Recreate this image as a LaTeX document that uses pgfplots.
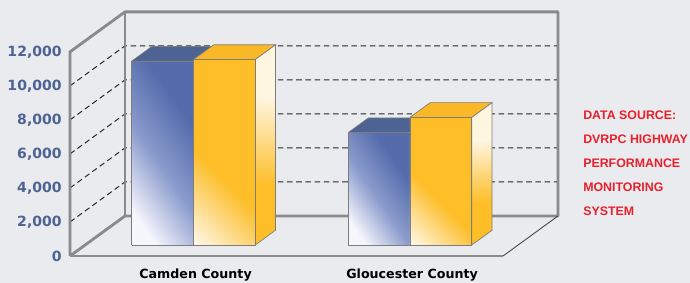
\documentclass[border=0pt]{standalone}
\usepackage{pgfplots}
\pgfplotsset{compat=1.18}
\usepackage{fontspec}
\setmainfont{DejaVu Sans}
\newfontfamily\srcfont{Liberation Sans}
\definecolor{bg}{RGB}{233,235,238}
\definecolor{wall}{RGB}{138,138,138}
\definecolor{tickblue}{RGB}{78,98,148}
\definecolor{bluedark}{RGB}{84,108,172}
\definecolor{bluemid}{RGB}{138,155,204}
\definecolor{bluelight}{RGB}{246,246,253}
\definecolor{bluetop}{RGB}{76,99,148}
\definecolor{yel}{RGB}{253,190,40}
\definecolor{yellight}{RGB}{255,246,226}
\definecolor{yeltop}{RGB}{251,184,38}
\definecolor{srcred}{RGB}{232,32,44}
\definecolor{edge}{RGB}{125,125,125}

\pgfdeclareverticalshading{blueshade}{100bp}{color(0bp)=(bluelight); color(24bp)=(bluelight); color(46bp)=(bluemid); color(68bp)=(bluedark); color(100bp)=(bluedark)}
\pgfdeclareverticalshading{yelshade}{100bp}{color(0bp)=(yellight); color(16bp)=(yellight); color(42bp)=(yel); color(100bp)=(yel)}
\pgfdeclareverticalshading{yelsideshade}{100bp}{color(0bp)=(yel); color(40bp)=(yel); color(62bp)=(yellight); color(100bp)=(yellight)}

% x1, x2, value, front style, top style, side style
\newcommand{\cube}[6]{%
 \addplot3[#5] coordinates {(#1,0.275,#3) (#2,0.275,#3) (#2,0.645,#3) (#1,0.645,#3) (#1,0.275,#3)};
 \addplot3[#6] coordinates {(#2,0.275,0) (#2,0.645,0) (#2,0.645,#3) (#2,0.275,#3) (#2,0.275,0)};
 \addplot3[#4] coordinates {(#1,0.275,0) (#2,0.275,0) (#2,0.275,#3) (#1,0.275,#3) (#1,0.275,0)};
}

\begin{document}
\begin{tikzpicture}
\useasboundingbox (0,0) rectangle (172.5mm,70.75mm);
\fill[bg] (0,0) rectangle (172.5mm,70.75mm);
\begin{axis}[
  at={(17.5mm,6.75mm)}, anchor=origin,
  x={(27.0625mm,0mm)}, y={(13.75mm,10mm)}, z={(0mm,0.00425mm)},
  xmin=0, xmax=4, ymin=0, ymax=1, zmin=0, zmax=12000,
  clip=false,
  axis line style={draw=none},
  major tick length=0pt,
  xtick={1.16,3.16}, xticklabels={Camden County, Gloucester County},
  ytick=\empty,
  ztick={0,2000,4000,6000,8000,10000,12000},
  scaled z ticks=false,
  /pgf/number format/assume math mode=true,
  /pgf/number format/1000 sep={,},
  zticklabel style={font=\bfseries\fontsize{10}{12}\selectfont, text=tickblue, anchor=east, inner sep=0pt, xshift=-2mm},
  xticklabel style={font=\bfseries\fontsize{9}{11}\selectfont, anchor=north, inner sep=0pt, yshift=-3.2mm},
  wallline/.style={draw=wall, line width=2pt, line join=round},
  gridl/.style={draw=black!85, line width=0.7pt, dash pattern=on 1.4mm off 0.9mm},
  bluefront/.style={draw=edge, line width=0.5pt, shading=blueshade, shading angle=-55},
  bluetopst/.style={draw=edge, line width=0.5pt, fill=bluetop},
  yelfront/.style={draw=edge, line width=0.5pt, shading=yelshade, shading angle=-45},
  yeltopst/.style={draw=edge, line width=0.5pt, fill=yeltop},
  yelside/.style={draw=edge, line width=0.5pt, shading=yelsideshade, shading angle=0},
]
% grid lines on side and back walls
\pgfplotsinvokeforeach{2000,4000,6000,8000,10000}{
  \addplot3[gridl] coordinates {(0,0,#1) (0,1,#1) (4,1,#1)};
}
% walls
\addplot3[wallline] coordinates {(0,0,0) (0,0,12000) (0,1,12000) (4,1,12000) (4,1,0) (0,1,0) (0,0,0)};
\addplot3[wallline] coordinates {(0,1,0) (0,1,12000)};
\addplot3[draw=wall, line width=1.6pt] coordinates {(0,0,0) (4,0,0)};
\addplot3[draw=black!75, line width=0.6pt] coordinates {(4,0,0) (4,1,0)};
% bars: Camden County
\cube{0.4286}{1}{10800}{bluefront}{bluetopst}{bluetopst}
\cube{1}{1.5714}{10900}{yelfront}{yeltopst}{yelside}
% bars: Gloucester County
\cube{2.4286}{3}{6600}{bluefront}{bluetopst}{bluetopst}
\cube{3}{3.5714}{7500}{yelfront}{yeltopst}{yelside}
\end{axis}
\begin{scope}[every node/.style={anchor=base west, inner sep=0pt, text=srcred, font=\srcfont\bfseries\fontsize{8.8}{10}\selectfont}]
\node at (145.75mm,40.75mm) {DATA SOURCE:};
\node at (145.75mm,34.75mm) {DVRPC HIGHWAY};
\node at (145.75mm,28.75mm) {PERFORMANCE};
\node at (145.75mm,22.75mm) {MONITORING};
\node at (145.75mm,16.75mm) {SYSTEM};
\end{scope}
\end{tikzpicture}
\end{document}
